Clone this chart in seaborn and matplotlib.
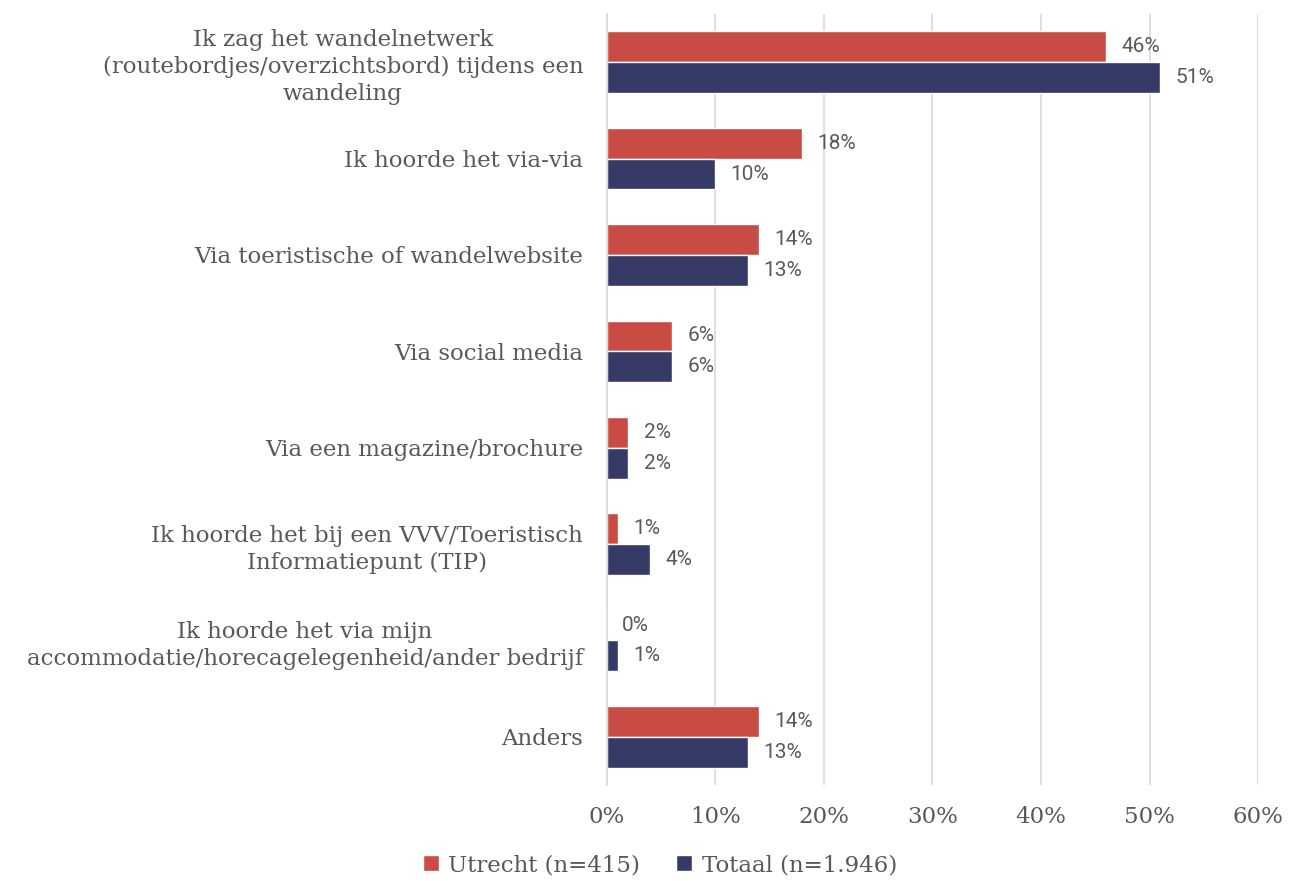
import pandas as pd
import matplotlib.pyplot as plt
import seaborn as sns
from matplotlib.ticker import PercentFormatter

# categories and values (percent)
categories = [
    "Ik zag het wandelnetwerk\n(routebordjes/overzichtsbord) tijdens een\nwandeling",
    "Ik hoorde het via-via",
    "Via toeristische of wandelwebsite",
    "Via social media",
    "Via een magazine/brochure",
    "Ik hoorde het bij een VVV/Toeristisch\nInformatiepunt (TIP)",
    "Ik hoorde het via mijn\naccommodatie/horecagelegenheid/ander bedrijf",
    "Anders",
]
utrecht = [46, 18, 14, 6, 2, 1, 0, 14]
totaal = [51, 10, 13, 6, 2, 4, 1, 13]
series = ["Utrecht (n=415)", "Totaal (n=1.946)"]

df = pd.DataFrame({
    "cat": categories * 2,
    "val": utrecht + totaal,
    "serie": [series[0]] * len(categories) + [series[1]] * len(categories),
})

sns.set_style("white")
serif = ["DejaVu Serif"]
grey = "#595959"

fig, ax = plt.subplots(figsize=(12.91, 8.81), dpi=100)
fig.subplots_adjust(left=0.470, right=0.9745, top=0.984, bottom=0.109)

sns.barplot(data=df, y="cat", x="val", hue="serie", orient="h",
            palette=["#C94C44", "#363A66"], saturation=1, width=0.64,
            edgecolor="white", linewidth=1, ax=ax)

# data labels
for cont in ax.containers:
    ax.bar_label(cont, labels=[f"{v:.0f}%" for v in cont.datavalues],
                 padding=11, fontsize=15, color=grey, family="Roboto")

ax.set_xlim(0, 60)
ax.set_xticks(range(0, 61, 10))
ax.xaxis.set_major_formatter(PercentFormatter(decimals=0))
ax.grid(axis="x", color="#D9D9D9", linewidth=1.2)
ax.set_axisbelow(True)
ax.set_xlabel("")
ax.set_ylabel("")
sns.despine(ax=ax, left=False, bottom=True, top=True, right=True)
ax.spines["left"].set_color("#D9D9D9")
ax.spines["left"].set_linewidth(1.2)
ax.tick_params(axis="x", length=0, pad=15, labelsize=16.5, labelcolor=grey)
ax.tick_params(axis="y", length=0, pad=17, labelsize=16.5, labelcolor=grey)
for t in ax.get_xticklabels() + ax.get_yticklabels():
    t.set_family(serif)
for t in ax.get_yticklabels():
    t.set_multialignment("center")
    t.set_linespacing(1.3)

ax.get_legend().remove()
handles, labels = ax.get_legend_handles_labels()
fig.legend(handles, labels, loc="center", bbox_to_anchor=(0.511, 0.018), ncol=2,
           frameon=False, handlelength=0.7, handleheight=0.7,
           handletextpad=0.4, columnspacing=1.6,
           prop={"family": serif, "size": 16.5}, labelcolor=grey)

plt.savefig("out.png", dpi=100)
